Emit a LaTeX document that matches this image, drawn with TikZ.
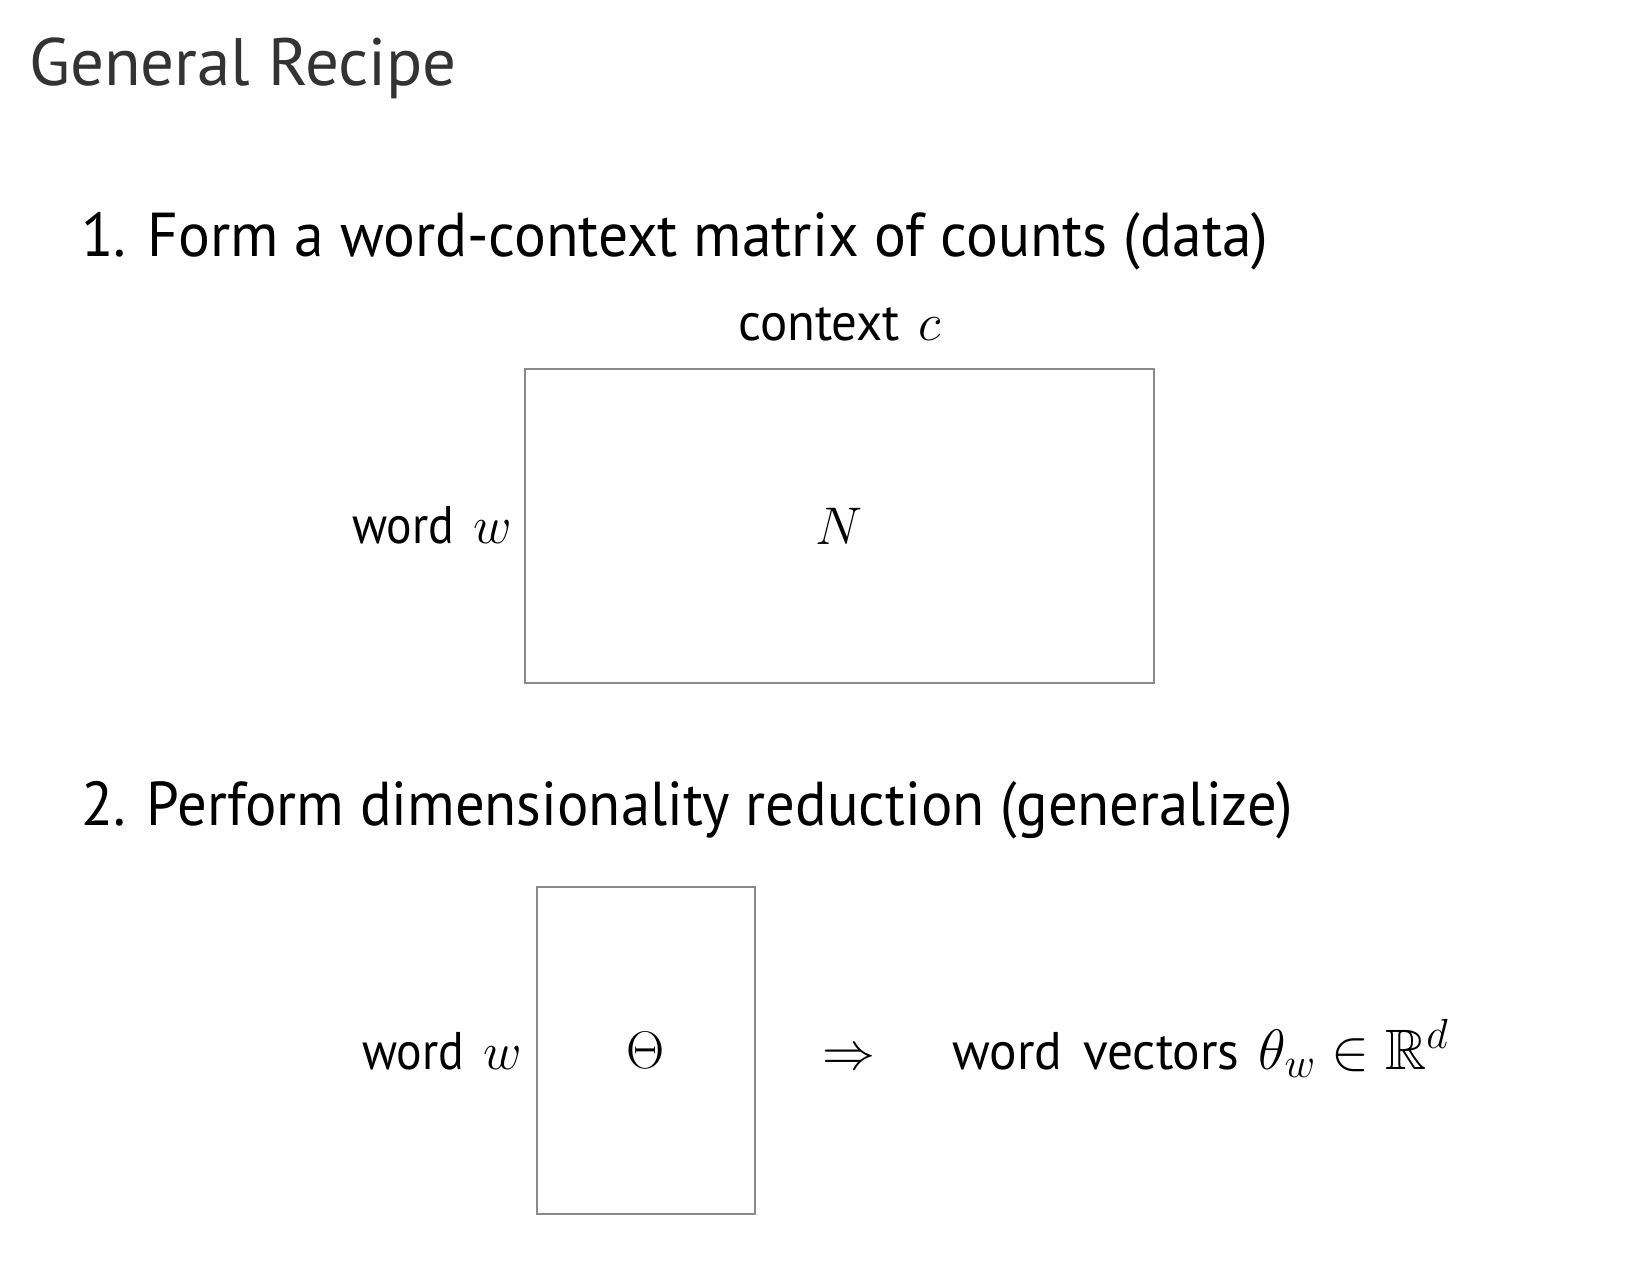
\RequirePackage{fix-cm}
\documentclass[tikz,border=0pt]{standalone}
\usepackage{amsmath,amssymb}
\usepackage{graphicx}
\usepackage{fontspec}
\setmainfont{PT Sans}
\DeclareMathSizes{53}{53}{39}{29}
\DeclareMathSizes{57}{57}{42}{31}
\DeclareMathSizes{62}{62}{43}{31}
\DeclareMathSizes{67}{67}{47}{33.5}
\definecolor{titlegray}{HTML}{333333}
\definecolor{boxgray}{HTML}{8A8A8A}
\newcommand{\nx}[2][0.94]{\scalebox{#1}[1]{#2}}
\newcommand{\gapm}{\hspace{19pt}}
\tikzset{
  mbox/.style={draw=boxgray, line width=1.8pt, inner sep=0pt},
  itemtext/.style={anchor=base west, inner sep=0pt, font=\fontsize{62}{70}\selectfont},
  labeltext/.style={inner sep=0pt, font=\fontsize{53}{60}\selectfont},
  mathtext/.style={inner sep=0pt, font=\fontsize{53}{60}\selectfont}
}
\begin{document}
\begin{tikzpicture}[x=1pt,y=-1pt]
\useasboundingbox (0,0) rectangle (1638,1268);
\node[anchor=base west, inner sep=0pt, text=titlegray, font=\fontsize{67}{75}\selectfont] (title) at (29,86) {General Recipe};
\node[itemtext] (item1) at (81,256) {\nx[0.96]{1. Form a word-context matrix of counts (data)}};
\node[mbox, minimum width=629pt, minimum height=314pt] (N) at (839.5,526) {};
\node[mathtext] (Nlab) at (N.center) {$N$};
\node[labeltext, anchor=base west] (ctx) at (738,340) {\nx[0.96]{context}\gapm$c$};
\node[labeltext, anchor=base east] (w1) at (512,543) {\nx[0.9]{word}\gapm$w$};
\node[itemtext] (item2) at (81,825) {\nx[0.947]{2. Perform dimensionality reduction (generalize)}};
\node[mbox, minimum width=218pt, minimum height=327pt] (T) at (646,1050.5) {};
\node[mathtext] (Tlab) at (T.center) {$\Theta$};
\node[labeltext, anchor=base east] (w2) at (522,1069) {\nx[0.9]{word}\gapm$w$};
\node[labeltext, anchor=base] (arr) at (848.5,1069) {$\Rightarrow$};
\node[labeltext, anchor=base west] (vec) at (952,1069) {\nx[0.97]{word}\hspace{21pt}\nx[0.97]{vectors}\gapm{\fontsize{57}{64}\selectfont$\theta_w \in \mathbb{R}^d$}};
\end{tikzpicture}
\end{document}
